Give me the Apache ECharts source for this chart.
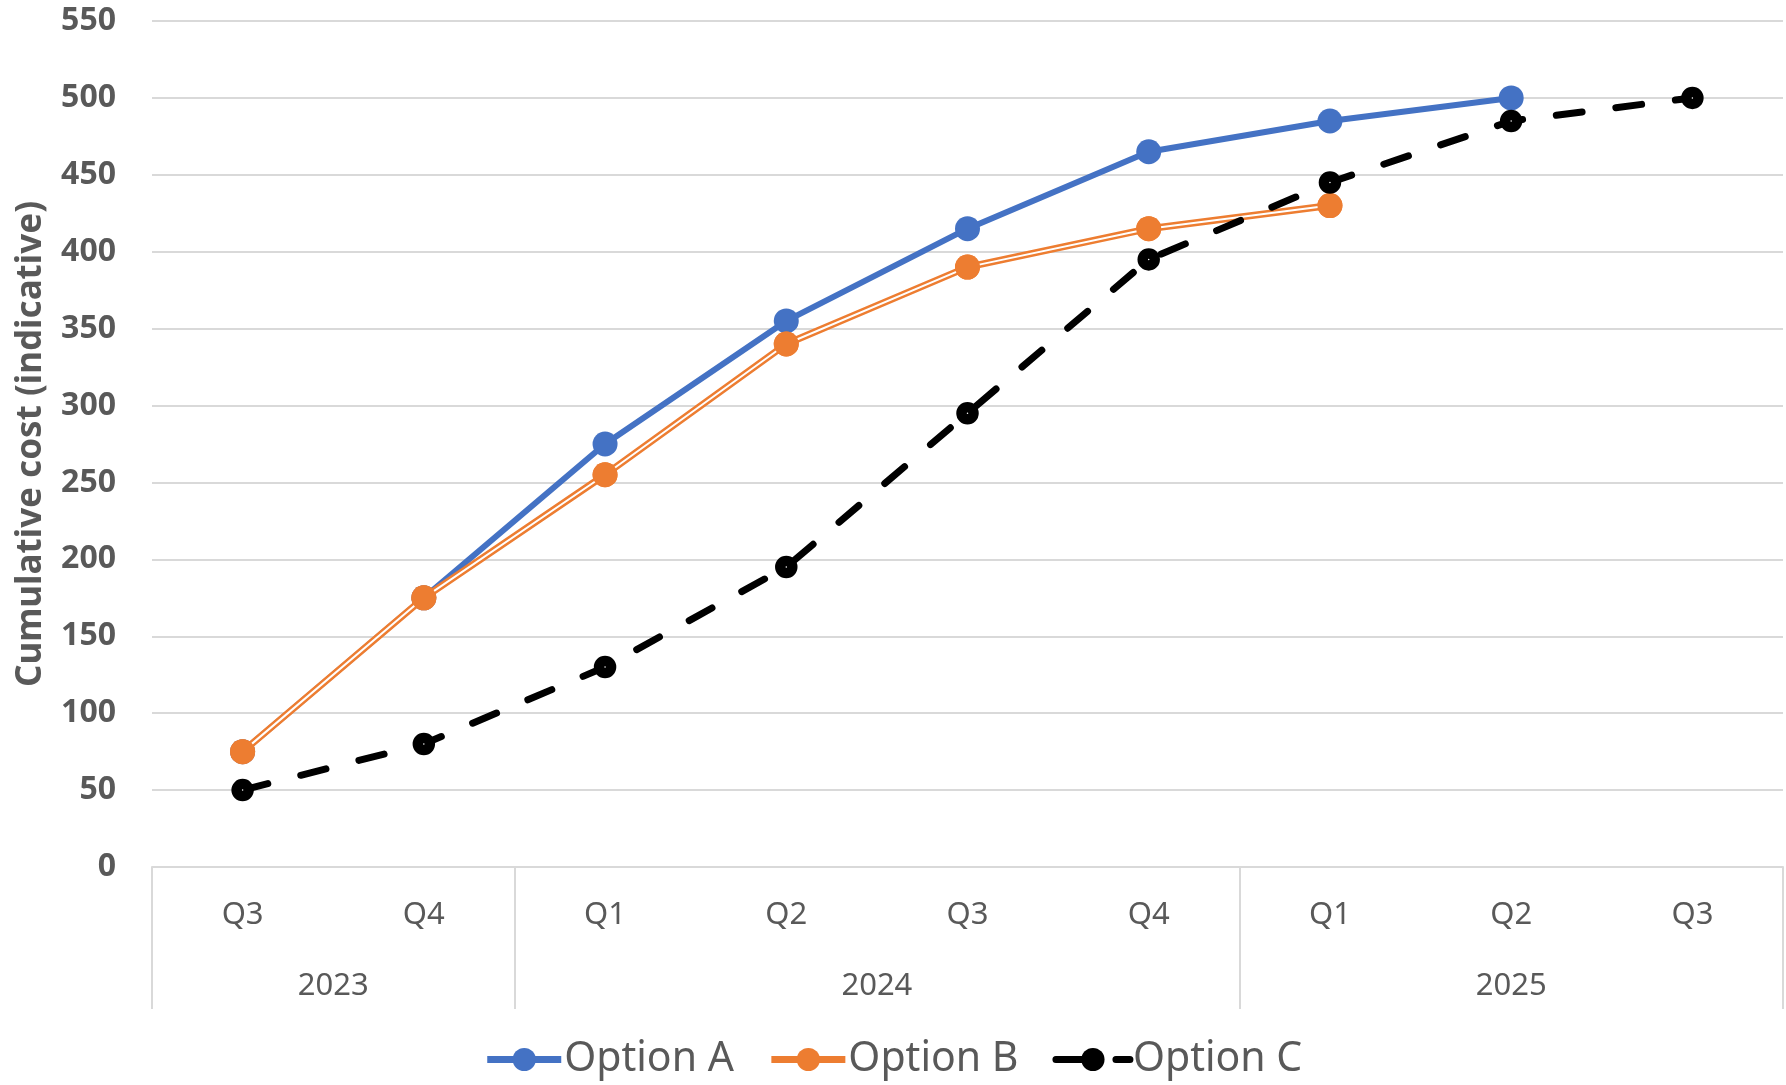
<!DOCTYPE html>
<html>
<head>
<meta charset="utf-8">
<title>Cumulative cost by option</title>
<script src="https://cdn.jsdelivr.net/npm/echarts@6/dist/echarts.min.js"></script>
<style>
  html, body { margin: 0; padding: 0; background: #ffffff; }
  #chart { width: 1786px; height: 1085px; }
</style>
</head>
<body>
<div id="chart"></div>
<script>
// Quarter labels along the bottom axis
const quarters = ['Q3', 'Q4', 'Q1', 'Q2', 'Q3', 'Q4', 'Q1', 'Q2', 'Q3'];
// Year groups and how many quarters each one spans
const years = ['2023', '2024', '2025'];
const yearSpans = [2, 4, 3];

// Cumulative cost per quarter for each option (null = no value)
const optionA = [75, 175, 275, 355, 415, 465, 485, 500, null];
const optionB = [75, 175, 255, 340, 390, 415, 430, null, null];
const optionC = [50, 80, 130, 195, 295, 395, 445, 485, 500];

// Value axis ticks
const yMin = 0, yMax = 550, yStep = 50;

// Year boundaries and label centres in category units
const yearBounds = [0];
const yearCenters = [];
yearSpans.forEach(function (n, i) {
  const start = yearBounds[i];
  yearCenters.push(start + n / 2);
  yearBounds.push(start + n);
});

const grey = '#595959';
const gridGrey = '#d9d9d9';
const blue = '#4472C4';
const orange = '#ED7D31';
const font = '"Noto Sans", "Open Sans", sans-serif';

const chart = echarts.init(document.getElementById('chart'));

chart.setOption({
  animation: false,
  backgroundColor: '#ffffff',
  grid: { left: 152, right: 3, top: 21, bottom: 218, containLabel: false },
  legend: {
    top: 1034,
    left: 'center',
    data: [
      { name: 'Option A', lineStyle: { color: blue, width: 7 }, itemStyle: { color: blue } },
      { name: 'Option B', lineStyle: { color: orange, width: 7 }, itemStyle: { color: orange } },
      { name: 'Option C', lineStyle: { color: '#000000', width: 7 },
        itemStyle: { color: '#000000', borderColor: '#000000', borderWidth: 0 } }
    ],
    itemWidth: 74,
    itemHeight: 29,
    itemGap: 34,
    textStyle: { color: grey, fontSize: 41, fontFamily: font, padding: [0, 0, 0, -2] }
  },
  xAxis: [
    {
      type: 'category',
      data: quarters,
      boundaryGap: true,
      axisLine: { show: true, lineStyle: { color: gridGrey, width: 2 } },
      axisTick: { show: false },
      splitLine: { show: false },
      axisLabel: {
        color: grey, fontSize: 31, fontFamily: font,
        margin: 48, verticalAlign: 'middle', interval: 0
      }
    },
    {
      type: 'value',
      min: 0,
      max: quarters.length,
      position: 'bottom',
      axisLine: { show: false },
      splitLine: { show: false },
      axisTick: {
        show: true,
        customValues: yearBounds,
        length: 142,
        lineStyle: { color: gridGrey, width: 2 }
      },
      axisLabel: {
        show: true,
        customValues: yearCenters,
        margin: 119,
        verticalAlign: 'middle',
        color: grey, fontSize: 31, fontFamily: font,
        formatter: function (v) {
          const i = yearCenters.indexOf(v);
          return i >= 0 ? years[i] : '';
        }
      }
    }
  ],
  yAxis: {
    type: 'value',
    min: yMin,
    max: yMax,
    interval: yStep,
    name: 'Cumulative cost (indicative)',
    nameLocation: 'middle',
    nameGap: 103,
    nameTextStyle: { color: grey, fontSize: 35, fontWeight: 'bold', fontFamily: font },
    axisLine: { show: false },
    axisTick: { show: false },
    axisLabel: { color: grey, fontSize: 32, fontWeight: 'bold', fontFamily: font, margin: 36 },
    splitLine: { lineStyle: { color: gridGrey, width: 2 } }
  },
  series: [
    {
      name: 'Option A',
      type: 'line',
      data: optionA,
      z: 2,
      color: blue,
      lineStyle: { color: blue, width: 6 },
      symbol: 'circle',
      symbolSize: 25,
      itemStyle: { color: blue }
    },
    {
      // outer band of the double orange line
      name: 'Option B',
      type: 'line',
      data: optionB,
      z: 3,
      color: orange,
      lineStyle: { color: orange, width: 7 },
      symbol: 'circle',
      symbolSize: 25,
      itemStyle: { color: orange }
    },
    {
      // white core that splits the orange line in two
      name: 'Option B',
      type: 'line',
      data: optionB,
      z: 4,
      lineStyle: { color: '#ffffff', width: 2 },
      showSymbol: false,
      symbol: 'none',
      silent: true
    },
    {
      // orange markers drawn above the split line
      name: 'Option B',
      type: 'line',
      data: optionB,
      z: 5,
      lineStyle: { width: 0, opacity: 0 },
      symbol: 'circle',
      symbolSize: 25,
      itemStyle: { color: orange }
    },
    {
      name: 'Option C',
      type: 'line',
      data: optionC,
      z: 6,
      color: '#000000',
      lineStyle: { color: '#000000', width: 7, type: [26, 34], cap: 'round' },
      symbol: 'circle',
      symbolSize: 12,
      itemStyle: { color: '#ffffff', borderColor: '#000000', borderWidth: 10.5 }
    }
  ]
});
</script>
</body>
</html>
